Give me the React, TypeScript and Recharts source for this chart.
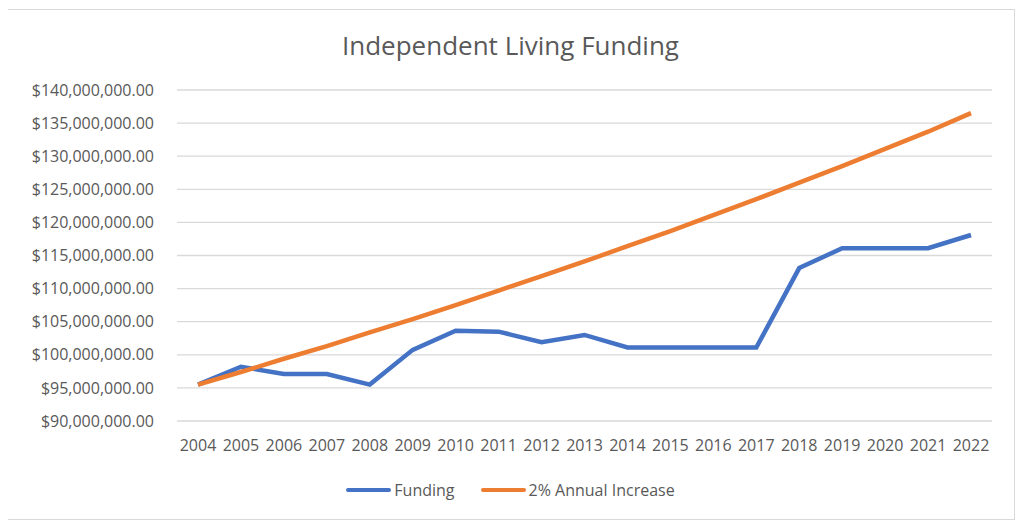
import { CartesianGrid, Line, LineChart, XAxis, YAxis } from "recharts";

const years = [
  "2004", "2005", "2006", "2007", "2008", "2009", "2010", "2011", "2012", "2013",
  "2014", "2015", "2016", "2017", "2018", "2019", "2020", "2021", "2022",
];

const funding = [
  95500000, 98200000, 97100000, 97100000, 95500000, 100750000, 103650000, 103500000,
  101900000, 103000000, 101100000, 101100000, 101100000, 101100000, 113100000,
  116100000, 116100000, 116100000, 118100000,
];

const annualIncrease = [
  95500000, 97400000, 99400000, 101300000, 103400000, 105400000, 107500000, 109700000,
  111900000, 114100000, 116400000, 118700000, 121100000, 123500000, 126000000,
  128500000, 131100000, 133700000, 136500000,
];

const yTicks = [
  90000000, 95000000, 100000000, 105000000, 110000000, 115000000, 120000000,
  125000000, 130000000, 135000000, 140000000,
];

const data = years.map((year, i) => ({
  year,
  funding: funding[i],
  increase: annualIncrease[i],
}));

const font = "'Open Sans', 'Noto Sans', sans-serif";
const textColor = "#595959";

const money = (v: number) =>
  "$" + v.toLocaleString("en-US", { minimumFractionDigits: 2, maximumFractionDigits: 2 });

function ChartLegend() {
  const items = [
    { label: "Funding", color: "#4472C4" },
    { label: "2% Annual Increase", color: "#ED7D31" },
  ];
  return (
    <div
      style={{
        position: "absolute",
        top: 469,
        left: 0,
        width: "100%",
        display: "flex",
        justifyContent: "center",
        gap: 26,
        fontFamily: font,
        fontSize: 16,
        lineHeight: "22px",
        color: textColor,
      }}
    >
      {items.map((it) => (
        <div key={it.label} style={{ display: "flex", alignItems: "center" }}>
          <span style={{ display: "inline-block", width: 45, height: 4, borderRadius: 2, background: it.color, marginRight: 3 }} />
          <span>{it.label}</span>
        </div>
      ))}
    </div>
  );
}

export default function App() {
  return (
    <div
      style={{
        position: "relative",
        width: 1007,
        height: 509,
        marginLeft: -2,
        marginTop: 1,
        border: "1px solid #d9d9d9",
        background: "#fff",
      }}
    >
      <div
        style={{
          position: "absolute",
          top: 17,
          left: 0,
          width: "100%",
          textAlign: "center",
          fontFamily: font,
          fontSize: 26,
          color: textColor,
        }}
      >
        Independent Living Funding
      </div>
      <LineChart width={1007} height={509} data={data} margin={{ top: 80, right: 22, left: 0, bottom: 68 }}>
        <CartesianGrid vertical={false} stroke="#d9d9d9" strokeWidth={1.3} />
        <XAxis
          dataKey="year"
          axisLine={false}
          tickLine={false}
          tickSize={0}
          tickMargin={19}
          height={30}
          padding={{ left: 21, right: 21 }}
          interval={0}
          tick={{ fill: textColor, fontSize: 16, fontFamily: font }}
        />
        <YAxis
          domain={[90000000, 140000000]}
          ticks={yTicks}
          tickFormatter={money}
          axisLine={false}
          tickLine={false}
          tickSize={0}
          tickMargin={23}
          width={170}
          tick={{ fill: textColor, fontSize: 16, fontFamily: font }}
        />
        <Line
          type="linear"
          dataKey="funding"
          name="Funding"
          stroke="#4472C4"
          strokeWidth={4.5}
          dot={false}
          isAnimationActive={false}
        />
        <Line
          type="linear"
          dataKey="increase"
          name="2% Annual Increase"
          stroke="#ED7D31"
          strokeWidth={4.5}
          dot={false}
          isAnimationActive={false}
        />
      </LineChart>
      <ChartLegend />
    </div>
  );
}
